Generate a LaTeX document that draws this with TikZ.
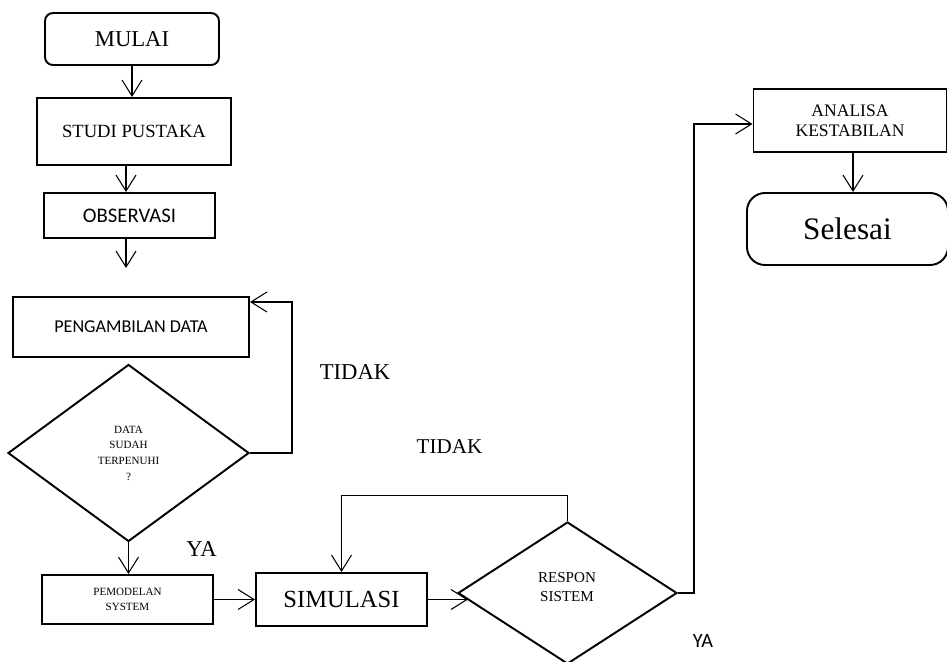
\documentclass[tikz,border=0pt]{standalone}
\usepackage{fontspec}
\setmainfont{Liberation Serif}
\newfontfamily\calibri{Carlito}
\usetikzlibrary{shapes.geometric,arrows.meta}
\tikzset{
  box/.style={draw, line width=1.1pt, rectangle, inner sep=0pt, align=center},
  rbox/.style={box, rounded corners=#1},
  dia/.style={draw, line width=1.1pt, diamond, inner sep=0pt, align=center},
  arr/.style={line width=0.6pt, -{Straight Barb[length=0.32cm,width=0.4cm,line width=0.6pt]}},
  conn/.style={line width=0.6pt},
  lbl/.style={inner sep=0pt, align=center}
}
\begin{document}
\begin{tikzpicture}[x=0.02cm,y=-0.02cm]
\useasboundingbox (0,0) rectangle (947,662);
% nodes
\node[rbox=0.16cm, minimum width=174*0.02cm, minimum height=52*0.02cm, font=\fontsize{12.9}{14}\selectfont] (mulai) at (132,39) {MULAI};
\node[box, minimum width=194*0.02cm, minimum height=67*0.02cm, font=\fontsize{10.6}{12}\selectfont] (studi) at (134,131.5) {STUDI PUSTAKA};
\node[box, minimum width=171*0.02cm, minimum height=45*0.02cm, font=\calibri\fontsize{11.8}{13}\selectfont] (obs) at (129.5,215.5) {OBSERVASI};
\coordinate (obsend) at (126,268);
\node[box, minimum width=236*0.02cm, minimum height=60*0.02cm, font=\calibri\fontsize{10.3}{12}\selectfont] (peng) at (131,327) {PENGAMBILAN DATA};
\node[dia, minimum width=241*0.02cm, minimum height=177*0.02cm, font=\fontsize{6.3}{8.9}\selectfont] (d1) at (128.5,453) {DATA\\SUDAH\\TERPENUHI\\?};
\node[box, minimum width=171*0.02cm, minimum height=49*0.02cm, font=\fontsize{6.3}{8.5}\selectfont] (pem) at (127.5,599.5) {PEMODELAN\\SYSTEM};
\node[box, minimum width=171*0.02cm, minimum height=53*0.02cm, font=\fontsize{14}{16}\selectfont] (sim) at (341.5,599.5) {SIMULASI};
\node[dia, minimum width=219*0.02cm, minimum height=142*0.02cm] (d2) at (567.5,593) {};
\node[lbl, font=\fontsize{8.6}{10.8}\selectfont] (d2t) at (567,587) {RESPON\\SISTEM};
\node[box, minimum width=193*0.02cm, minimum height=63*0.02cm, font=\fontsize{10}{11.4}\selectfont] (ana) at (850,120.5) {ANALISA\\KESTABILAN};
\node[rbox=0.36cm, minimum width=201*0.02cm, minimum height=72*0.02cm, font=\fontsize{17.8}{20}\selectfont] (sel) at (847.5,229) {Selesai};
% labels
\node[lbl, font=\fontsize{12.9}{14}\selectfont] (tidak1) at (355,372) {TIDAK};
\node[lbl, font=\fontsize{12}{14}\selectfont] (tidak2) at (449.5,447) {TIDAK};
\node[lbl, font=\fontsize{12.9}{14}\selectfont] (ya1) at (201.5,549.5) {YA};
\node[lbl, font=\calibri\fontsize{11.5}{13}\selectfont] (ya2) at (703,641) {YA};
% connectors
\draw[arr] (mulai.south) -- (mulai.south |- studi.north);
\draw[arr] (studi.south -| 126,0) -- (obs.north -| 126,0);
\draw[arr] (obs.south -| 126,0) -- (obsend);
\coordinate (c1) at (292,302);
\draw[arr] (d1.east) -| (c1) -- (c1 -| peng.east);
\draw[arr] (d1.south) -- (d1.south |- pem.north);
\draw[arr] (pem.east) -- (sim.west);
\draw[arr] (sim.east) -- (sim.east -| 468,0);
\draw[arr] (d2.north) -- ++(0,-26) -| (sim.north);
\coordinate (c2) at (694,124);
\draw[arr] (d2.east) -| (c2) -- (c2 -| ana.west);
\draw[arr] (ana.south -| 853,0) -- (sel.north -| 853,0);
\end{tikzpicture}
\end{document}
